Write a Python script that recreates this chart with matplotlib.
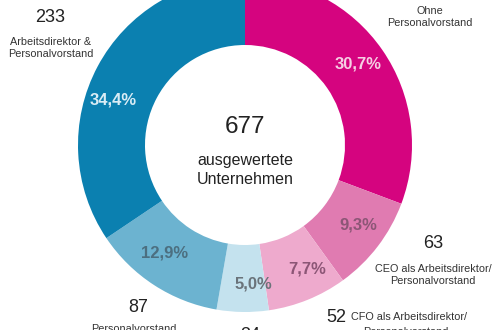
import matplotlib
matplotlib.use("Agg")
import matplotlib.pyplot as plt

plt.rcParams['font.family'] = ['Liberation Sans', 'DejaVu Sans']

# Anzahl Unternehmen je Kategorie (Summe 677)
labels = ["Ohne\nPersonalvorstand",
          "CEO als Arbeitsdirektor/\nPersonalvorstand",
          "CFO als Arbeitsdirektor/\nPersonalvorstand",
          "",
          "Personalvorstand",
          "Arbeitsdirektor &\nPersonalvorstand"]
counts = [208, 63, 52, 34, 87, 233]
colors = ["#d5047f", "#e07bb1", "#eeaacd", "#c4e2ee", "#6cb3d0", "#0b80b0"]
pct_colors = ["#f6cfe4", "#8c5676", "#8c5676", "#6a737a", "#4c6f80", "#d9ecf5"]
total = sum(counts)

fig = plt.figure(figsize=(5, 3.3), dpi=100)
ax = fig.add_axes([0, 0, 1, 1])

H = 330


def txt(x, y, s, **kw):
    ax.text(x, H - y, s, ha='center', va='center', **kw)


wedges, _ = ax.pie(
    counts, colors=colors, startangle=90, counterclock=False,
    center=(245, H - 145), radius=167, frame=True,
    wedgeprops=dict(width=67, edgecolor='none'))

ax.set_xlim(0, 500)
ax.set_ylim(0, 330)
ax.set_aspect('equal')
ax.axis('off')

# Prozentwerte im Ring
pct_pos = [(358, 64), (358, 225), (307, 269), (253, 284), (165, 253), (113, 100)]
for n, (x, y), c in zip(counts, pct_pos, pct_colors):
    s = f"{100 * n / total:.1f}%".replace('.', ',')
    txt(x, y, s, fontsize=12, color=c, fontweight='semibold')

# Mitte
txt(245, 127, str(total), fontsize=17.5, color='#222222')
txt(245, 160, "ausgewertete", fontsize=11.5, color='#222222')
txt(245, 179, "Unternehmen", fontsize=11.5, color='#222222')

lab_kw = dict(fontsize=7.8, color='#333333', linespacing=1.3)
num_kw = dict(fontsize=13, color='#222222')

# Beschriftungen
txt(50, 18, str(counts[5]), **num_kw)
txt(51, 48, labels[5], **lab_kw)

txt(430, 17, labels[0], **lab_kw)

txt(433, 244, str(counts[1]), **num_kw)
txt(433, 275, labels[1], **lab_kw)

ax.text(336, H - 317, str(counts[2]), ha='center', va='center', **num_kw)
ax.text(351, H - 317, labels[2].split("\n")[0], ha='left', va='center', **lab_kw)
txt(406, 332, labels[2].split("\n")[1], **lab_kw)

txt(138, 307, str(counts[4]), **num_kw)
txt(134, 329, labels[4], **lab_kw)

txt(250, 336, str(counts[3]), **num_kw)

fig.savefig("out.png", dpi=100)
